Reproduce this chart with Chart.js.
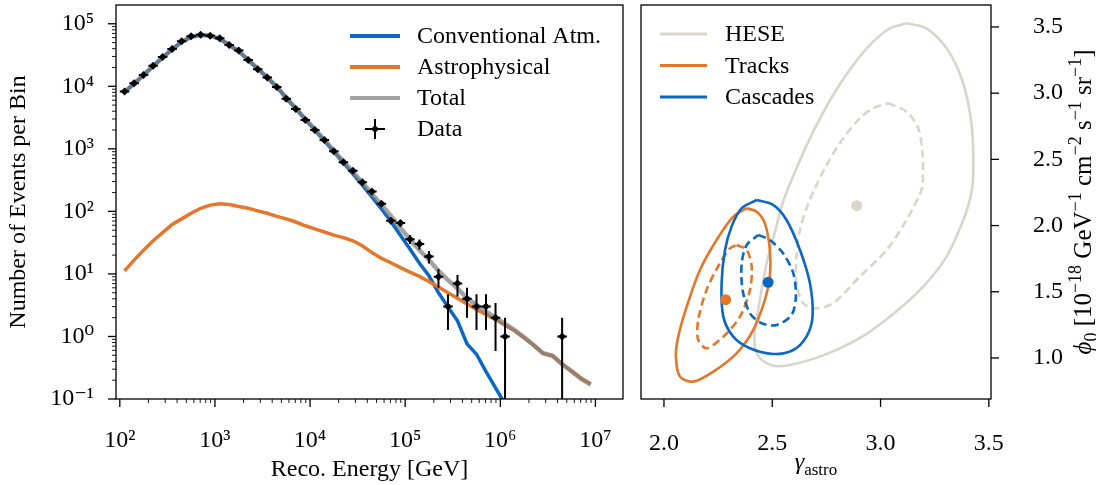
<!DOCTYPE html>
<html>
<head>
<meta charset="utf-8">
<script src="https://cdn.jsdelivr.net/npm/chart.js@4.4.1/dist/chart.umd.min.js"></script>
<style>
  html, body { margin: 0; padding: 0; background: #fff; }
  #wrap { position: relative; width: 1096px; height: 485px; }
  canvas { position: absolute; top: 0; }
  #spectrum { left: 0; }
  #contours { left: 632px; }
</style>
</head>
<body>
<div id="wrap">
  <canvas id="spectrum" width="632" height="485"></canvas>
  <canvas id="contours" width="464" height="485"></canvas>
</div>
<script>
const FONT = "'Liberation Serif', 'DejaVu Serif', serif";
const FONT_SIZE = 24;
const BLUE = '#0a68c2';
const ORANGE = '#e5762a';
const GRAY = 'rgba(128, 128, 128, 0.72)';
const HESE_COLOR = '#d8d5ca';

// reconstructed energy bin centres [GeV]
const binCenters = [
  1.122e2, 1.413e2, 1.778e2, 2.239e2, 2.818e2, 3.548e2, 4.467e2, 5.623e2, 7.079e2, 8.913e2,
  1.122e3, 1.413e3, 1.778e3, 2.239e3, 2.818e3, 3.548e3, 4.467e3, 5.623e3, 7.079e3, 8.913e3,
  1.122e4, 1.413e4, 1.778e4, 2.239e4, 2.818e4, 3.548e4, 4.467e4, 5.623e4, 7.079e4, 8.913e4,
  1.122e5, 1.413e5, 1.778e5, 2.239e5, 2.818e5, 3.548e5, 4.467e5, 5.623e5, 7.079e5, 8.913e5,
  1.122e6, 1.413e6, 1.778e6, 2.239e6, 2.818e6, 3.548e6, 4.467e6, 5.623e6, 7.079e6, 8.913e6,
];

// observed events per bin (null = empty bin)
const dataCounts = [
  8260, 11200, 15100, 21400, 29500, 39400, 52500, 63100, 66700, 64600,
  58900, 45700, 37200, 26300, 18800, 13800, 9770, 6310, 4320, 2880,
  2000, 1380, 912, 612, 445, 293, 208, 132, 71, 65,
  36, 30, 19, 9, 3, 7, 4, 3, 3, 2,
  1, null, null, null, null, null, 1, null, null, null,
];

const conventional = [
  8130, 10960, 15140, 20890, 28840, 38900, 51290, 61660, 66070, 64570,
  57540, 45710, 36310, 26300, 19050, 13800, 9770, 6460, 4370, 2950,
  1995, 1349, 891, 603, 398, 263, 170, 110, 69.2, 41.7,
  25.1, 14.8, 9.33, 5.01, 2.95, 1.78, 0.76, 0.52, 0.275, 0.151,
  0.083,
];

const astrophysical = [
  11.2, 16.6, 24.0, 33.9, 45.7, 61.7, 75.9, 93.3, 112, 126,
  132, 129, 120, 112, 102, 93.3, 83.2, 75.9, 67.6, 58.9,
  52.5, 46.8, 41.7, 38.0, 33.9, 28.2, 21.9, 17.8, 15.1, 12.6,
  10.7, 9.12, 7.59, 6.17, 5.01, 4.07, 3.31, 2.69, 2.24, 1.86,
  1.51, 1.23, 0.955, 0.724, 0.537, 0.490, 0.363, 0.275, 0.214, 0.174,
];

const total = [
  8140, 10980, 15160, 20920, 28890, 38960, 51370, 61760, 66190, 64700,
  57670, 45840, 36430, 26410, 19150, 13890, 9850, 6540, 4440, 3010,
  2050, 1400, 933, 641, 432, 291, 192, 128, 84.3, 54.3,
  35.8, 23.9, 16.9, 11.2, 7.96, 5.85, 4.07, 3.2, 2.5, 2.0,
  1.59, 1.27, 0.97, 0.73, 0.54, 0.49, 0.36, 0.28, 0.21, 0.17,
];

// [gamma_astro, phi_0] contours
const heseOuter = [
  [3.12, 3.528], [3.212, 3.49], [3.305, 3.339], [3.374, 3.113], [3.412, 2.86], [3.427, 2.609],
  [3.425, 2.307], [3.405, 2.15], [3.37, 1.992], [3.305, 1.765], [3.197, 1.539], [3.043, 1.312],
  [2.889, 1.136], [2.72, 1.01], [2.581, 0.947], [2.504, 0.942], [2.443, 0.998], [2.42, 1.085],
  [2.42, 1.211], [2.443, 1.438], [2.474, 1.715], [2.515, 1.967], [2.55, 2.18], [2.612, 2.433],
  [2.689, 2.709], [2.781, 2.986], [2.874, 3.213], [2.966, 3.389], [3.043, 3.49],
];
const heseInner = [
  [3.035, 2.924], [3.12, 2.86], [3.174, 2.735], [3.194, 2.533], [3.194, 2.307], [3.185, 2.25],
  [3.12, 2.042], [3.028, 1.816], [2.904, 1.614], [2.781, 1.413], [2.705, 1.375], [2.643, 1.413],
  [2.612, 1.564], [2.612, 1.765], [2.628, 1.967], [2.67, 2.18], [2.751, 2.458], [2.828, 2.659],
  [2.904, 2.81], [2.966, 2.886],
];
const tracksOuter = [
  [2.382, 2.131], [2.428, 2.105], [2.466, 2.017], [2.489, 1.816], [2.489, 1.614], [2.466, 1.438],
  [2.412, 1.211], [2.335, 1.035], [2.228, 0.897], [2.135, 0.821], [2.074, 0.859], [2.055, 1.01],
  [2.066, 1.161], [2.105, 1.387], [2.166, 1.665], [2.243, 1.891], [2.32, 2.067],
];
const tracksInner = [
  [2.335, 1.853], [2.382, 1.816], [2.405, 1.69], [2.397, 1.514], [2.351, 1.312], [2.274, 1.161],
  [2.197, 1.073], [2.158, 1.136], [2.158, 1.287], [2.197, 1.514], [2.258, 1.715], [2.305, 1.828],
];
const cascadesOuter = [
  [2.428, 2.193], [2.504, 2.156], [2.566, 2.042], [2.628, 1.816], [2.674, 1.564], [2.686, 1.312],
  [2.658, 1.161], [2.597, 1.06], [2.504, 1.03], [2.397, 1.073], [2.32, 1.161], [2.274, 1.312],
  [2.266, 1.564], [2.282, 1.816], [2.312, 1.992], [2.359, 2.131],
];
const cascadesInner = [
  [2.435, 1.929], [2.489, 1.891], [2.55, 1.79], [2.597, 1.64], [2.609, 1.463], [2.589, 1.325],
  [2.52, 1.249], [2.451, 1.262], [2.397, 1.338], [2.363, 1.514], [2.359, 1.715], [2.382, 1.853],
];
const bestFits = { hese: [2.89, 2.15], tracks: [2.285, 1.44], cascades: [2.481, 1.571] };

const spectrumTicksX = [1e2, 1e3, 1e4, 1e5, 1e6, 1e7];
const spectrumTicksY = [1e-1, 1e0, 1e1, 1e2, 1e3, 1e4, 1e5];
const gammaTicks = [2.0, 2.5, 3.0, 3.5];
const phiTicks = [1.0, 1.5, 2.0, 2.5, 3.0, 3.5];

const SUP = { '-': '\u207b', 0: '\u2070', 1: '\u00b9', 2: '\u00b2', 3: '\u00b3', 4: '\u2074', 5: '\u2075', 6: '\u2076', 7: '\u2077', 8: '\u2078', 9: '\u2079' };

function powerLabel(v) {
  const e = Math.log10(v);
  if (Math.abs(e - Math.round(e)) > 1e-6) return '';
  return '10' + String(Math.round(e)).split('').map((c) => SUP[c]).join('');
}

function fontFor(kind, size) {
  const s = kind === 'sup' || kind === 'sub' ? Math.round(size * 0.72) : size;
  return (kind === 'i' ? 'italic ' : '') + s + 'px ' + FONT;
}

// draws text runs with super/subscripts, centred on x, baseline y
function drawRich(ctx, parts, x, y, size) {
  let width = 0;
  parts.forEach(([t, k]) => { ctx.font = fontFor(k, size); width += ctx.measureText(t).width; });
  let cx = x - width / 2;
  ctx.textAlign = 'left';
  ctx.textBaseline = 'alphabetic';
  parts.forEach(([t, k]) => {
    ctx.font = fontFor(k, size);
    let dy = 0;
    if (k === 'sup') dy = -0.42 * size;
    if (k === 'sub') dy = 0.25 * size;
    ctx.fillText(t, cx, y + dy);
    cx += ctx.measureText(t).width;
  });
}

function drawFrame(ctx, a) {
  ctx.strokeStyle = '#000';
  ctx.lineWidth = 1.3;
  ctx.strokeRect(a.left, a.top, a.right - a.left, a.bottom - a.top);
}

function tick(ctx, x1, y1, x2, y2, w) {
  ctx.lineWidth = w;
  ctx.beginPath();
  ctx.moveTo(x1, y1);
  ctx.lineTo(x2, y2);
  ctx.stroke();
}

// pin the axis box size and drop the label overflow padding Chart.js adds
const fixBox = (size) => (s) => {
  if (s.isHorizontal()) s.height = size; else s.width = size;
  s.paddingTop = 0;
  s.paddingBottom = 0;
  s.paddingLeft = 0;
  s.paddingRight = 0;
};

const logMinors = (lo, hi) => {
  const out = [];
  for (let e = Math.floor(Math.log10(lo)); e <= Math.ceil(Math.log10(hi)); e++) {
    for (let k = 2; k <= 9; k++) {
      const v = k * Math.pow(10, e);
      if (v > lo && v < hi) out.push(v);
    }
  }
  return out;
};

const toPoints = (values) => values
  .map((y, i) => ({ x: binCenters[i], y }))
  .filter((p) => p.y !== null);

const spectrumDecor = {
  id: 'spectrumDecor',
  afterDatasetsDraw(chart) {
    const { ctx, chartArea: a } = chart;
    const x = chart.scales.x;
    const y = chart.scales.y;
    // Poisson error bars and bin-width bars on the data points
    ctx.save();
    ctx.beginPath();
    ctx.rect(a.left, a.top, a.right - a.left, a.bottom - a.top);
    ctx.clip();
    ctx.strokeStyle = '#000';
    ctx.lineWidth = 2;
    dataCounts.forEach((n, i) => {
      if (n === null) return;
      const err = Math.sqrt(n);
      const px = x.getPixelForValue(binCenters[i]);
      const lo = n - err > 0 ? y.getPixelForValue(n - err) : a.bottom + 2;
      const hi = y.getPixelForValue(n + err);
      const py = y.getPixelForValue(n);
      ctx.beginPath();
      ctx.moveTo(px, lo);
      ctx.lineTo(px, hi);
      ctx.moveTo(x.getPixelForValue(binCenters[i] / 1.122), py);
      ctx.lineTo(x.getPixelForValue(binCenters[i] * 1.122), py);
      ctx.stroke();
    });
    ctx.restore();
  },
  afterDraw(chart) {
    const { ctx, chartArea: a } = chart;
    const x = chart.scales.x;
    const y = chart.scales.y;
    ctx.save();
    drawFrame(ctx, a);
    spectrumTicksX.forEach((v) => { const p = x.getPixelForValue(v); tick(ctx, p, a.bottom, p, a.bottom + 8, 1.3); });
    logMinors(x.min, x.max).forEach((v) => { const p = x.getPixelForValue(v); tick(ctx, p, a.bottom, p, a.bottom + 4, 0.9); });
    spectrumTicksY.forEach((v) => { const p = y.getPixelForValue(v); tick(ctx, a.left, p, a.left - 8, p, 1.3); });
    logMinors(y.min, y.max).forEach((v) => { const p = y.getPixelForValue(v); tick(ctx, a.left, p, a.left - 4, p, 0.9); });

    // legend
    const rows = [[BLUE, 'Conventional Atm.'], [ORANGE, 'Astrophysical'], [GRAY, 'Total'], [null, 'Data']];
    ctx.font = FONT_SIZE + 'px ' + FONT;
    ctx.textAlign = 'left';
    ctx.textBaseline = 'middle';
    rows.forEach(([color, label], i) => {
      const ly = 36 + i * 31;
      ctx.strokeStyle = color || '#000';
      if (color) {
        tick(ctx, 350, ly, 400, ly, 4);
      } else {
        tick(ctx, 365, ly, 385, ly, 2);
        tick(ctx, 375, ly - 10, 375, ly + 10, 2);
        ctx.fillStyle = '#000';
        ctx.beginPath();
        ctx.moveTo(375, ly - 4); ctx.lineTo(379, ly); ctx.lineTo(375, ly + 4); ctx.lineTo(371, ly);
        ctx.fill();
      }
      ctx.fillStyle = '#000';
      ctx.fillText(label, 417, ly + 1);
    });
    ctx.restore();
  },
};

new Chart(document.getElementById('spectrum'), {
  type: 'line',
  data: {
    datasets: [
      {
        label: 'Data', data: toPoints(dataCounts), showLine: false, pointStyle: 'rectRot',
        pointRadius: 4, backgroundColor: '#000', borderColor: '#000', borderWidth: 0, order: 0,
      },
      { label: 'Total', data: toPoints(total), borderColor: GRAY, borderWidth: 4.5, pointRadius: 0, clip: 0, order: 1 },
      { label: 'Astrophysical', data: toPoints(astrophysical), borderColor: ORANGE, borderWidth: 3.5, pointRadius: 0, clip: 0, order: 2 },
      { label: 'Conventional Atm.', data: toPoints(conventional), borderColor: BLUE, borderWidth: 3.5, pointRadius: 0, clip: 0, order: 3 },
    ],
  },
  options: {
    responsive: false,
    animation: false,
    events: [],
    layout: { autoPadding: false, padding: { top: 5, right: 9, left: 0, bottom: 0 } },
    plugins: { legend: { display: false }, tooltip: { enabled: false } },
    scales: {
      x: {
        type: 'logarithmic',
        min: Math.pow(10, 1.96),
        max: Math.pow(10, 7.29),
        grid: { display: false, drawTicks: false },
        border: { display: false },
        afterFit: fixBox(86),
        ticks: {
          autoSkip: false, maxRotation: 0, padding: 27, color: '#000',
          font: { family: FONT, size: FONT_SIZE }, callback: (v) => powerLabel(v),
        },
        title: {
          display: true, text: 'Reco. Energy [GeV]', color: '#000',
          font: { family: FONT, size: FONT_SIZE }, padding: { top: 0, bottom: 1 },
        },
      },
      y: {
        type: 'logarithmic',
        min: 1e-1,
        max: Math.pow(10, 5.3),
        grid: { display: false, drawTicks: false },
        border: { display: false },
        afterFit: fixBox(116),
        ticks: {
          autoSkip: false, padding: 22, color: '#000',
          font: { family: FONT, size: FONT_SIZE }, callback: (v) => powerLabel(v),
        },
        title: {
          display: true, text: 'Number of Events per Bin', color: '#000',
          font: { family: FONT, size: FONT_SIZE }, padding: { top: 4, bottom: 0 },
        },
      },
    },
  },
  plugins: [spectrumDecor],
});

const contourSet = (pts, color, dashed, order) => ({
  data: pts.concat([pts[0]]).map(([x, y]) => ({ x, y })),
  showLine: true,
  borderColor: color,
  borderWidth: 2.6,
  borderDash: dashed ? [8, 4.5] : [],
  pointRadius: 0,
  tension: 0.3,
  fill: false,
  clip: 0,
  order,
});

const bestFitSet = (pt, color, order) => ({
  data: [{ x: pt[0], y: pt[1] }],
  showLine: false,
  pointRadius: 5.5,
  backgroundColor: color,
  borderWidth: 0,
  order,
});

const contourDecor = {
  id: 'contourDecor',
  afterDraw(chart) {
    const { ctx, chartArea: a } = chart;
    const x = chart.scales.x;
    const y = chart.scales.y;
    ctx.save();
    drawFrame(ctx, a);
    ctx.strokeStyle = '#000';
    gammaTicks.forEach((v) => { const p = x.getPixelForValue(v); tick(ctx, p, a.bottom, p, a.bottom + 8, 1.3); });
    phiTicks.forEach((v) => { const p = y.getPixelForValue(v); tick(ctx, a.right, p, a.right + 8, p, 1.3); });

    ctx.fillStyle = '#000';
    drawRich(ctx, [['\u03b3', 'i'], ['astro', 'sub']], (a.left + a.right) / 2, 469, FONT_SIZE);
    ctx.save();
    ctx.translate(459, (a.top + a.bottom) / 2);
    ctx.rotate(-Math.PI / 2);
    drawRich(ctx, [
      ['\u03d5', 'i'], ['0', 'sub'], [' [10', ''], ['\u221218', 'sup'], [' GeV', ''], ['\u22121', 'sup'],
      [' cm', ''], ['\u22122', 'sup'], [' s', ''], ['\u22121', 'sup'], [' sr', ''], ['\u22121', 'sup'], [']', ''],
    ], 0, 0, 25);
    ctx.restore();

    const rows = [[HESE_COLOR, 'HESE'], [ORANGE, 'Tracks'], [BLUE, 'Cascades']];
    ctx.font = FONT_SIZE + 'px ' + FONT;
    ctx.textAlign = 'left';
    ctx.textBaseline = 'middle';
    rows.forEach(([color, label], i) => {
      const ly = 34 + i * 31.5;
      ctx.strokeStyle = color;
      tick(ctx, 28, ly, 75, ly, 3);
      ctx.fillStyle = '#000';
      ctx.fillText(label, 93, ly + 1);
    });
    ctx.restore();
  },
};

new Chart(document.getElementById('contours'), {
  type: 'scatter',
  data: {
    datasets: [
      bestFitSet(bestFits.cascades, BLUE, 0),
      bestFitSet(bestFits.tracks, ORANGE, 1),
      bestFitSet(bestFits.hese, HESE_COLOR, 2),
      contourSet(cascadesInner, BLUE, true, 3),
      contourSet(cascadesOuter, BLUE, false, 4),
      contourSet(tracksInner, ORANGE, true, 5),
      contourSet(tracksOuter, ORANGE, false, 6),
      contourSet(heseInner, HESE_COLOR, true, 7),
      contourSet(heseOuter, HESE_COLOR, false, 8),
    ],
  },
  options: {
    responsive: false,
    animation: false,
    events: [],
    layout: { autoPadding: false, padding: { top: 5, left: 9, right: 0, bottom: 0 } },
    plugins: { legend: { display: false }, tooltip: { enabled: false } },
    scales: {
      x: {
        type: 'linear',
        min: 1.894,
        max: 3.51,
        grid: { display: false, drawTicks: false },
        border: { display: false },
        afterFit: fixBox(86),
        ticks: {
          stepSize: 0.5, includeBounds: false, autoSkip: false, maxRotation: 0, padding: 30, color: '#000',
          font: { family: FONT, size: FONT_SIZE }, callback: (v) => v.toFixed(1),
        },
      },
      y: {
        type: 'linear',
        position: 'right',
        min: 0.69,
        max: 3.666,
        grid: { display: false, drawTicks: false },
        border: { display: false },
        afterFit: fixBox(105),
        ticks: {
          stepSize: 0.5, includeBounds: false, padding: 42, color: '#000',
          font: { family: FONT, size: FONT_SIZE }, callback: (v) => v.toFixed(1),
        },
      },
    },
  },
  plugins: [contourDecor],
});
</script>
</body>
</html>
